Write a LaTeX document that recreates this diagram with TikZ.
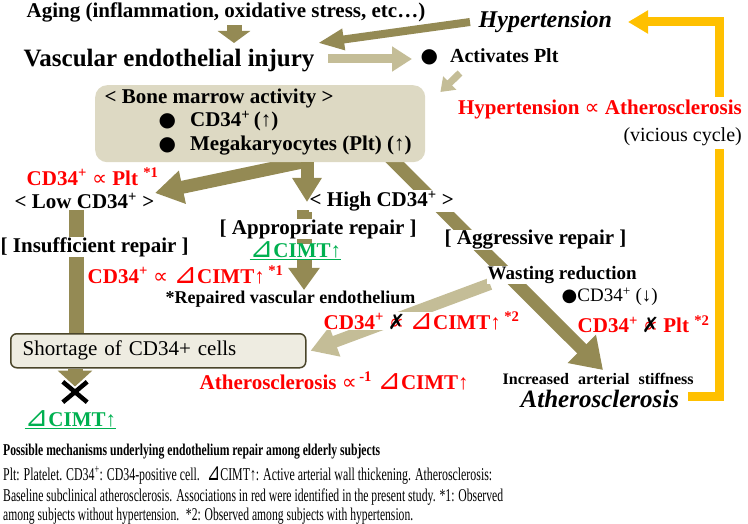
\documentclass[tikz,border=0pt]{standalone}
\usepackage{graphicx}
\usepackage{fontspec}
\setmainfont{Liberation Serif}
\newfontfamily\symf{DejaVu Sans}
\usetikzlibrary{arrows.meta,calc}
\pgfdeclarelayer{bg}
\pgfsetlayers{bg,main}
\definecolor{khD}{HTML}{948A54}
\definecolor{khL}{HTML}{C4BD97}
\definecolor{khBox}{HTML}{DDD9C3}
\definecolor{shF}{HTML}{EEECE1}
\definecolor{shD}{HTML}{4A452A}
\definecolor{gold}{HTML}{FFC000}
\definecolor{myred}{HTML}{FF0000}
\definecolor{mygreen}{HTML}{00B050}
\newcommand{\fsz}[1]{\fontsize{#1}{#1}\selectfont}
\newcommand{\prp}{{\symf\mdseries ∝}}
\newcommand{\tri}{{\symf\mdseries\smash{\scalebox{1.35}{⊿}}}}
\newcommand{\nprp}{\smash{\ooalign{{\symf\mdseries ∝}\cr\hidewidth{\color{black}\symf\mdseries ✗}\hidewidth\cr}}}
\newcommand{\cdp}{CD34\textsuperscript{+}}
\newcommand{\bul}{{\symf\mdseries ●}}
\begin{document}
\begin{tikzpicture}[x=1pt,y=-1pt,
  txt/.style={anchor=west, inner sep=0.5pt},
  wb/.style={fill=white},
  bfx/.style={font=\bfseries\fsz{#1}},
  dk/.style={draw=khD, line width=#1},
  lt/.style={draw=khL, line width=#1}]
\useasboundingbox (0,0) rectangle (748,524);
% ---------- text nodes ----------
\node[txt, bfx=21] (aging) at (26,12) {Aging (inflammation, oxidative stress, etc…)};
\node[txt, bfx=25] (vei) at (23,61) {Vascular endothelial injury};
\node[txt, font=\bfseries\itshape\fsz{24}] (hyp) at (478,22) {Hypertension};
\node[txt, bfx=20] (act) at (420,57) {{\fsz{20}\bul}\hspace{12pt}Activates Plt};
\node[fill=khBox, rounded corners=12pt, minimum width=330pt, minimum height=77pt, anchor=north west, inner sep=0] (bm) at (95,85) {};
\node[txt, bfx=21] (bmt) at (104,98) {< Bone marrow activity >};
\node[txt, bfx=21] (bm1) at (158,121) {{\fsz{20}\bul}\hspace{14pt}\cdp\,(↑)};
\node[txt, bfx=21] (bm2) at (158,146) {{\fsz{20}\bul}\hspace{14pt}Megakaryocytes (Plt) (↑)};
\node[align=right, anchor=north east, fill=white, inner sep=3pt, font=\fontsize{21}{27}\selectfont] (vic) at (745,97) {{\color{myred}\bfseries Hypertension \prp{} Atherosclerosis}\\{\fsz{20}(vicious cycle)}};
\node[txt, bfx=21, text=myred] (r1) at (26,177) {\cdp{} \prp{} Plt \textsuperscript{*1}};
\node[txt, bfx=21] (low) at (14,201) {< Low \cdp{} >};
\node[txt, bfx=21, wb] (high) at (309,201) {< High \cdp{} >};
\node[txt, bfx=21, wb] (insuf) at (0,247) {[ Insufficient repair ]};
\node[txt, bfx=21, wb] (appr) at (219,229) {[ Appropriate repair ]};
\node[txt, bfx=21, wb, text=mygreen, inner ysep=0pt] (g1) at (249,252) {\underline{\tri CIMT↑}};
\node[txt, bfx=21, wb] (aggr) at (444,240) {[ Aggressive repair ]};
\node[txt, bfx=21, text=myred] (r2) at (87,275) {\cdp{} \prp{} \tri CIMT↑\,\textsuperscript{*1}};
\node[txt, bfx=18] (rep) at (165,299) {*Repaired vascular endothelium};
\node[txt, bfx=19, wb] (wast) at (487,275) {Wasting reduction};
\node[txt, font=\fsz{19}] (cdd) at (561,297) {{\fsz{18}\bul}\cdp{} (↓)};
\node[txt, bfx=21, wb, text=myred] (r3) at (323,321) {\cdp{} \nprp{} \tri CIMT↑\,\textsuperscript{*2}};
\node[txt, bfx=21, text=myred] (r4) at (577,324) {\cdp{} \nprp{} Plt \textsuperscript{*2}};
\node[draw=shD, line width=1.5pt, fill=shF, rounded corners=6pt, minimum width=295pt, minimum height=34pt, text width=271pt, align=left, inner xsep=12pt, anchor=north west, font=\fsz{21}] (sh) at (10,333) {Shortage of CD34+ cells};
\node[txt, bfx=21, text=myred] (r5) at (199,381) {Atherosclerosis \prp\textsuperscript{\,-1} \tri CIMT↑};
\node[txt, bfx=16] (incr) at (502,379) {Increased\hspace{5pt} arterial\hspace{5pt} stiffness};
\node[txt, font=\bfseries\itshape\fsz{25}] (ath) at (520,399) {Atherosclerosis};
\node[minimum width=24pt, minimum height=20pt, inner sep=0] (xm) at (75,392) {};
\node[txt, bfx=21, text=mygreen] (g2) at (24,421) {\underline{\tri CIMT↑}};
\node[anchor=base west, inner sep=0, font=\bfseries\fsz{16.5}] (cap0) at (3,455) {\resizebox{377pt}{\height}{Possible mechanisms underlying endothelium repair among elderly subjects}};
\node[anchor=base west, inner sep=0, font=\fsz{18}] (cap1) at (3,480) {\resizebox{489pt}{\height}{Plt: Platelet. \cdp: CD34-positive cell. \ \tri CIMT↑: Active arterial wall thickening. Atherosclerosis:}};
\node[anchor=base west, inner sep=0, font=\fsz{18}] (cap2) at (3,501) {\resizebox{500pt}{\height}{Baseline subclinical atherosclerosis. Associations in red were identified in the present study. *1: Observed}};
\node[anchor=base west, inner sep=0, font=\fsz{18}] (cap3) at (3,520) {\resizebox{410pt}{\height}{among subjects without hypertension. \ *2: Observed among subjects with hypertension.}};
% ---------- connectors behind text ----------
\begin{pgfonlayer}{bg}
\draw[dk=13pt, -{Triangle[width=38pt,length=30pt]}] ($(bm.south west)+(288,-12)$) -- ($(incr.west)+(101,-9)$);
\draw[dk=13pt, -{Triangle[width=32pt,length=28pt]}] ($(bm.south west)+(215,-2)$) -- ($(low.west)+(141,-8)$);
\draw[dk=15pt, -{Triangle[width=30pt,length=22pt]}] ($(high.west)+(-5,9)$) -- ($(rep.west)+(139,-9)$);
\draw[dk=15pt] ($(low.west)+(62,9)$) -- ($(sh.north west)+(66,1)$);
\draw[lt=12pt, -{Triangle[width=30pt,length=26pt]}] ($(wast.west)+(3,9)$) -- ($(sh.east)+(4,0)$);
\draw[draw=gold, line width=9pt, line join=miter, -{Triangle[width=22pt,length=20pt]}] ($(ath.west)+(168,-3)$) -| ($(hyp.west)+(241,0)$) -- ($(hyp.west)+(150,0)$);
\end{pgfonlayer}
% ---------- connectors in front ----------
\draw[dk=15pt, -{Triangle[width=32pt,length=12pt]}] ($(aging.west)+(208,13)$) -- ($(vei.west)+(211,-18)$);
\draw[dk=8pt, -{Triangle[width=20pt,length=26pt]}] ($(hyp.west)+(-8,0)$) -- ($(vei.west)+(295,-18)$);
\draw[lt=9pt, -{Triangle[width=24pt,length=20pt]}] ($(vei.west)+(305,-2)$) -- ($(act.west)+(-8,2)$);
\draw[lt=7pt, -{Triangle[width=18pt,length=13pt]}] ($(act.west)+(40,16)$) -- ($(bm.north east)+(15,7)$);
\draw[dk=13pt, -{Triangle[width=28pt,length=24pt]}] ($(bm.south west)+(212,0)$) -- ($(high.west)+(-2,1)$);
\draw[dk=15pt, -{Triangle[width=34pt,length=16pt]}] ($(sh.south west)+(65,0)$) -- ($(sh.south west)+(65,18)$);
\draw[line width=4.5pt] (xm.north west) -- (xm.south east) (xm.north east) -- (xm.south west);
\end{tikzpicture}
\end{document}
